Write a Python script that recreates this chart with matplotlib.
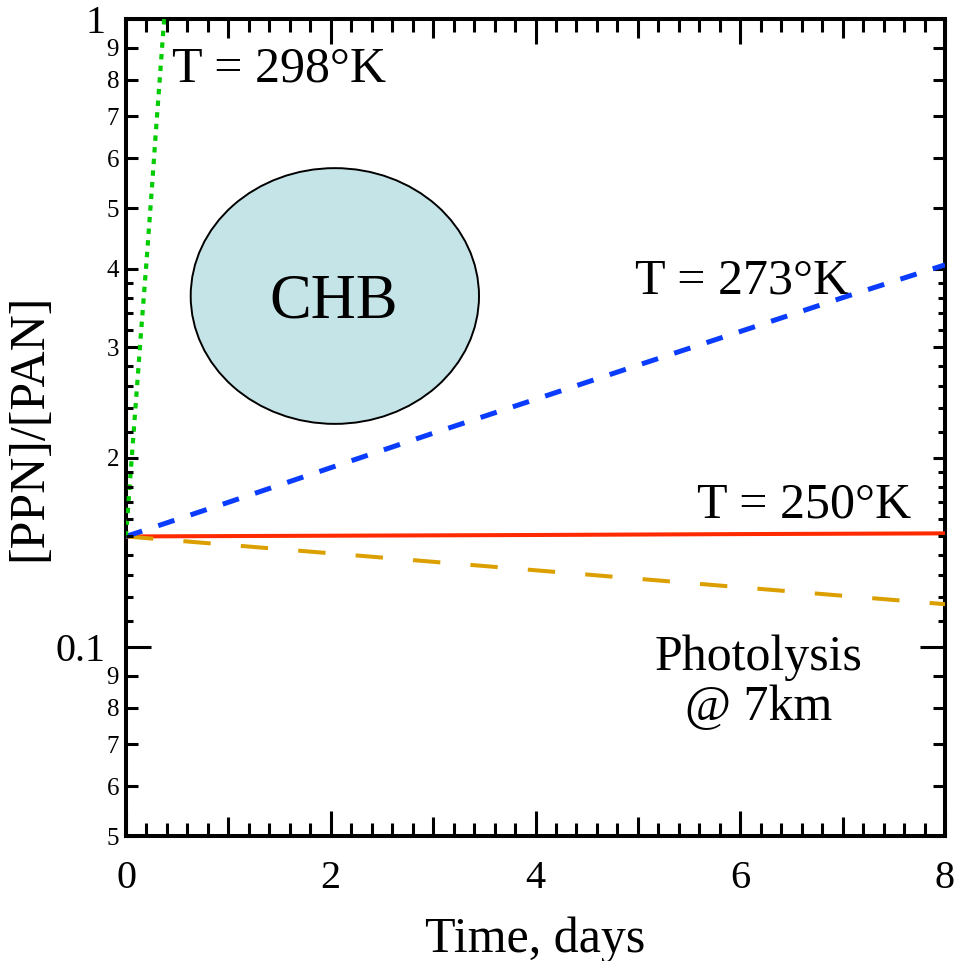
import numpy as np
import matplotlib
matplotlib.use('Agg')
import matplotlib.pyplot as plt
from matplotlib.patches import Ellipse

plt.rcParams['font.family'] = ['Liberation Serif', 'DejaVu Serif']

# PPN/PAN ratio vs time (days)
t_298 = [0.0, 0.05, 0.10, 0.15, 0.20, 0.25, 0.30, 0.35, 0.40]
r_298 = [0.150, 0.194, 0.250, 0.322, 0.410, 0.530, 0.690, 0.890, 1.150]

t_273 = [0, 1, 2, 3, 4, 5, 6, 7, 8]
r_273 = [0.150, 0.170, 0.193, 0.219, 0.248, 0.281, 0.318, 0.360, 0.406]

t_250 = [0, 2, 4, 6, 8]
r_250 = [0.1500, 0.1504, 0.1508, 0.1513, 0.1517]

t_phot = [0, 2, 4, 6, 8]
r_phot = [0.150, 0.141, 0.1325, 0.1245, 0.117]

x_major = [0, 2, 4, 6, 8]
x_mid = [1, 3, 5, 7]
x_small = [v / 5 for v in range(41) if v % 5 != 0]

y_major = [0.1, 1]
y_major_labels = ['0.1', '1']
y_minor = [0.05, 0.06, 0.07, 0.08, 0.09, 0.2, 0.3, 0.4, 0.5, 0.6, 0.7, 0.8, 0.9]
y_minor_labels = ['5', '6', '7', '8', '9', '2', '3', '4', '5', '6', '7', '8', '9']
y_small = [0.11, 0.12, 0.13, 0.14, 0.15, 0.16, 0.17, 0.18, 0.19,
           0.22, 0.24, 0.26, 0.28, 0.32, 0.34, 0.36, 0.38]

fig = plt.figure(figsize=(9.56, 9.61), dpi=100)
ax = fig.add_axes([0.1318, 0.130, 0.8567, 0.8502])

ax.plot(t_250, r_250, '-', color='#ff2a00', lw=2.9, zorder=3)
ax.plot(t_phot, r_phot, color='#dba000', lw=2.9, linestyle=(0, (6.8, 7.5)), zorder=4)
ax.plot(t_273, r_273, color='#0a3cff', lw=3.6, linestyle=(0, (3.4, 3.4)), zorder=5)
ax.plot(t_298, r_298, color='#00cc00', lw=3.0, linestyle=(0, (1.3, 1.5)), zorder=6)

ax.set_yscale('log')
ax.set_xlim(0, 8)
ax.set_ylim(0.05, 1)

# CHB blob
ell = Ellipse((0.255, 0.661), 0.352, 0.313, transform=ax.transAxes,
              facecolor='#c5e4e8', edgecolor='black', lw=1.4, zorder=2)
ax.add_patch(ell)
ax.text(2.03, 0.335, 'CHB', fontsize=45, ha='center', va='baseline', zorder=3)

ax.text(0.45, 0.794, 'T = 298°K', fontsize=36, ha='left', va='baseline')
ax.text(4.97, 0.366, 'T = 273°K', fontsize=36, ha='left', va='baseline')
ax.text(5.58, 0.161, 'T = 250°K', fontsize=36, ha='left', va='baseline')
ax.text(6.18, 0.0765, 'Photolysis\n@ 7km', fontsize=36, ha='center',
        va='baseline', multialignment='center', linespacing=1.1)

ax.set_xlabel('Time, days', fontsize=36, labelpad=14)
ax.set_ylabel('[PPN]/[PAN]', fontsize=36, labelpad=2)

# extra tick levels through twin axes
axy = ax.twinx()
axy.set_yscale('log')
axy.set_ylim(0.05, 1)
axy.set_yticks(y_small, labels=[])
axy.yaxis.set_minor_locator(plt.NullLocator())
axy.yaxis.set_ticks_position('both')
axy.tick_params(axis='y', which='major', direction='in', length=5, width=2.2,
                left=True, right=True, labelleft=False, labelright=False)

axx = ax.twiny()
axx.set_xlim(0, 8)
axx.set_xticks(x_small, labels=[])
axx.xaxis.set_ticks_position('both')
axx.tick_params(axis='x', which='major', direction='in', length=9.5, width=2.2,
                top=True, bottom=True, labeltop=False, labelbottom=False)

for a in (axy, axx):
    for s in a.spines.values():
        s.set_visible(False)

ax.set_xticks(x_major)
ax.set_xticks(x_mid, minor=True)
ax.set_yticks(y_major, labels=y_major_labels)
ax.set_yticks(y_minor, labels=y_minor_labels, minor=True)

ax.tick_params(which='both', direction='in', top=True, right=True, bottom=True, left=True, width=2.2)
ax.tick_params(axis='x', which='major', length=18, labelsize=29, pad=17)
ax.tick_params(axis='x', which='minor', length=14)
ax.tick_params(axis='y', which='major', length=18, labelsize=29, pad=15)
ax.tick_params(axis='y', which='minor', length=8.6, labelsize=18, pad=5)

for s in ax.spines.values():
    s.set_linewidth(2.9)

fig.savefig('out.png', dpi=100)
